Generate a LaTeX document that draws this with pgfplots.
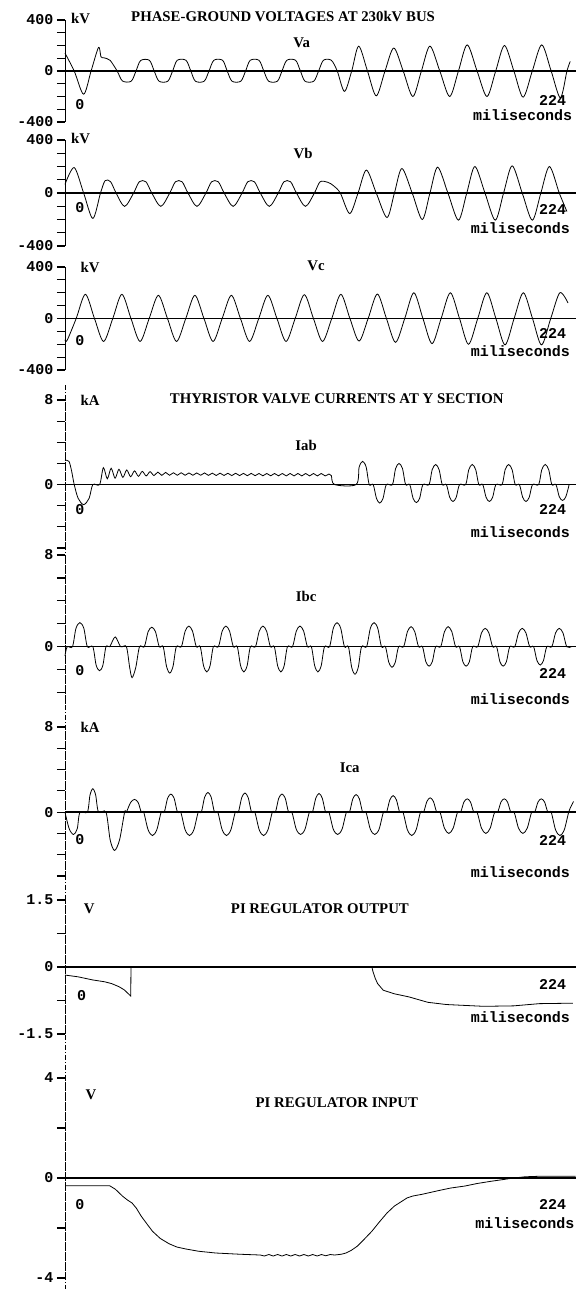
\documentclass[border=0pt]{standalone}
\usepackage{fontspec}
\setmainfont{Liberation Serif}
\newfontfamily\monofont{Liberation Mono}
\usepackage{pgfplots}
\pgfplotsset{compat=1.18}

\newcommand{\lbl}{\monofont\bfseries\fontsize{15}{15}\selectfont}
\newcommand{\ttl}{\bfseries\fontsize{14.8}{15}\selectfont}

\pgfplotsset{
  panel/.style={
    scale only axis, width=510.7pt, xmin=0, xmax=233,
    axis x line=middle, axis y line=left, clip=false,
    every inner x axis line/.append style={-, line width=1.5pt},
    every outer y axis line/.append style={-, line width=1pt},
    xtick=\empty, minor xtick={28,56,...,224}, minor tick length=4pt,
    major tick length=8pt, ytick align=outside, ytick pos=left,
    every tick/.style={black, line width=1.2pt},
    yticklabel style={font=\lbl, anchor=east},
  },
  lower/.style={every outer y axis line/.append style={dash pattern=on 5pt off 2pt on 1pt off 2pt, line width=0.8pt}},
  wave/.style={black, line width=0.8pt, smooth},
  sig/.style={black, line width=0.8pt},
}

\begin{document}
\begin{tikzpicture}[x=1pt,y=1pt]
\path[use as bounding box] (0,0) rectangle (582,-1289);
\draw[dash pattern=on 5pt off 2pt on 1pt off 2pt, line width=0.8pt] (65,-385) -- (65,-1289);

% ---------- Va
\begin{axis}[panel, at={(65pt,-122pt)}, anchor=south west, height=102pt,
  ymin=-400, ymax=400, ytick={-400,-300,...,400},
  yticklabels={-400,{},{},{},0,{},{},{},400}]
\addplot[wave] coordinates {
 (0,140) (4.2,0) (8.5,-182) (11.9,0) (15.3,185) (16.4,112) (17.6,104) (19,98) (20.6,84) (23.8,0)
 (26.2,-78) (30.2,-80) (32.4,0) (34.5,82) (38.5,84) (40.7,0)
 (42.9,-80) (46.9,-80) (49.1,0) (51.2,84) (55.2,84) (57.4,0)
 (59.5,-80) (63.5,-80) (65.7,0) (67.9,84) (71.9,84) (74.0,0)
 (76.2,-80) (80.2,-80) (82.4,0) (84.5,84) (88.5,84) (90.7,0)
 (92.9,-80) (96.9,-80) (99.0,0) (101.2,84) (105.2,84) (107.4,0)
 (109.5,-80) (113.5,-80) (115.7,0) (117.9,84) (121.5,84) (124.2,0)
 (127.5,-160) (130.8,0) (134,195) (138,0) (142,-195) (146,0) (150,180) (154.3,0)
 (158.7,-200) (162.6,0) (166.5,195) (171,0) (175.5,-200) (179.5,0) (183.5,205) (188,0)
 (192.5,-200) (196.5,0) (200.5,200) (204.8,0) (209,-205) (213.2,0) (217.5,205) (221.8,0)
 (226,-210) (229,0) (230.5,75)
};
\node[font=\ttl] at (99.5,425) {PHASE-GROUND VOLTAGES AT 230kV BUS};
\node[font=\ttl, anchor=west] at (1.2,415) {kV};
\node[font=\ttl] at (108,223) {Va};
\node[font=\lbl] at (6.8,-260) {0};
\node[font=\lbl] at (222.5,-232) {224};
\node[font=\lbl, anchor=east] at (233,-350) {miliseconds};
\end{axis}

% ---------- Vb
\begin{axis}[panel, at={(65pt,-246pt)}, anchor=south west, height=106pt,
  ymin=-400, ymax=400, ytick={-400,-300,...,400},
  yticklabels={-400,{},{},{},0,{},{},{},400}]
\addplot[wave] coordinates {
 (0,65) (4.2,192) (8.5,0) (12.7,-192) (16.2,0) (18.3,93) (20.8,85) (23.3,0)
 (27.2,-101) (31.3,0) (33.9,85) (36.9,85) (39.6,0)
 (43.7,-101) (47.8,0) (50.4,85) (53.4,85) (56.1,0)
 (60.2,-101) (64.3,0) (66.9,85) (69.9,85) (72.6,0)
 (76.7,-101) (80.8,0) (83.4,85) (86.4,85) (89.1,0)
 (93.2,-101) (97.3,0) (99.9,85) (102.9,85) (105.6,0)
 (109.7,-101) (113.8,0) (116.4,85) (120,80) (122.5,55) (125.6,0)
 (129.9,-155) (133.7,0) (137.5,173) (142,0) (146.9,-185) (150.3,0) (153.7,185) (158.4,0)
 (163,-200) (166.5,0) (170,195) (174.7,0) (179.5,-205) (183.3,0) (187,200) (191.6,0)
 (196.3,-205) (200.1,0) (204,205) (208.6,0) (213.2,-205) (217.1,0) (221,200) (225.5,0)
 (229,-140)
};
\node[font=\ttl, anchor=west] at (1.2,410) {kV};
\node[font=\ttl] at (108.6,300) {Vb};
\node[font=\lbl] at (6.8,-110) {0};
\node[font=\lbl] at (222.5,-125) {224};
\node[font=\lbl, anchor=east] at (232,-265) {miliseconds};
\end{axis}

% ---------- Vc
\begin{axis}[panel, at={(65pt,-370pt)}, anchor=south west, height=103pt,
  ymin=-400, ymax=400, ytick={-400,-300,...,400},
  yticklabels={-400,{},{},{},0,{},{},{},400}]
\addplot[wave] coordinates {
 (0,-165) (0.95,-170) (5.1,0) (9.3,188) (13.45,0) (17.6,-178) (21.8,0) (25.95,188) (30.1,0)
 (34.25,-178) (38.4,0) (42.6,180) (46.75,0) (50.9,-178) (55.1,0) (59.25,180) (63.4,0)
 (67.55,-178) (71.7,0) (75.9,180) (80.05,0) (84.2,-178) (88.4,0) (92.55,180) (96.7,0)
 (100.85,-178) (105,0) (109.2,185) (113.35,0) (117.5,-178) (121.7,0) (125.85,188) (130,0)
 (134.15,-175) (138.3,0) (142.5,190) (146.65,0) (150.8,-185) (155,0) (159.15,200) (163.3,0)
 (167.45,-195) (171.6,0) (175.8,200) (180,0) (184.1,-200) (188.3,0) (192.45,200) (196.6,0)
 (200.75,-205) (204.9,0) (209.1,200) (213.3,0) (217.4,-205) (221.6,0) (225.75,200) (229.5,120)
};
\node[font=\ttl, anchor=west] at (5.5,400) {kV};
\node[font=\ttl] at (114.5,410) {Vc};
\node[font=\lbl] at (6.8,-170) {0};
\node[font=\lbl] at (222.5,-120) {224};
\node[font=\lbl, anchor=east] at (232,-252) {miliseconds};
\end{axis}

% ---------- Iab
\begin{axis}[panel, lower, at={(65pt,-548pt)}, anchor=south west, height=148pt,
  ymin=-6, ymax=8, ytick={-6,-4,...,8},
  yticklabels={{},{},{},0,{},{},{},8}]
\addplot[wave] coordinates {
 (0,2.3) (1.8,2.2) (3,1.3) (4.2,0) (6,-1.3) (8.5,-1.9) (11,-1.3) (12.7,0) (15.8,0)
 (17.5,1.6) (19.3,0.55) (21.05,1.55) (22.85,0.6) (24.6,1.45) (26.4,0.68) (28.15,1.38) (29.95,0.74)
 (31.7,1.3) (33.5,0.78) (35.25,1.25) (37.05,0.82) (38.8,1.22) (40.6,0.85) (42.35,1.18) (44.15,0.87)
 (45.9,1.15) (47.7,0.88) (49.45,1.12) (51.25,0.88) (53,1.12) (54.8,0.88) (56.55,1.1) (58.35,0.88)
 (60.1,1.1) (61.9,0.88) (63.65,1.1) (65.45,0.87) (67.2,1.08) (69,0.86) (70.75,1.08) (72.55,0.86)
 (74.3,1.07) (76.1,0.85) (77.85,1.07) (79.65,0.85) (81.4,1.06) (83.2,0.84) (84.95,1.06) (86.75,0.84)
 (88.5,1.05) (90.3,0.83) (92.05,1.05) (93.85,0.83) (95.6,1.05) (97.4,0.83) (99.15,1.05) (100.95,0.82)
 (102.7,1.05) (104.5,0.82) (106.25,1.05) (108.05,0.82) (109.8,1.05) (111.6,0.82) (113.35,1.05) (115.15,0.82)
 (116.9,1.05) (118.7,0.82) (120.45,1.0) (121.5,0.85) (123,0) (132.8,0)
 (134.2,1.65) (135.8,2.2) (137.4,1.65) (138.8,0) (140.6,0)
 (142.1,-1.3) (143.6,-1.75) (145.1,-1.3) (146.6,0) (149.4,0)
 (150.8,1.5) (152.4,2.0) (154,1.5) (155.4,0) (157.3,0)
 (158.8,-1.3) (160.3,-1.7) (161.8,-1.3) (163.3,0) (166.1,0)
 (167.5,1.4) (169.1,1.9) (170.7,1.4) (172.1,0) (174,0)
 (175.5,-1.2) (177,-1.6) (178.5,-1.2) (180,0) (182.8,0)
 (184.2,1.4) (185.8,1.9) (187.4,1.4) (188.8,0) (190.6,0)
 (192.1,-1.2) (193.6,-1.6) (195.1,-1.2) (196.6,0) (199.4,0)
 (200.8,1.4) (202.4,1.9) (204,1.4) (205.4,0) (207.3,0)
 (208.8,-1.2) (210.3,-1.6) (211.8,-1.2) (213.3,0) (216.1,0)
 (217.5,1.4) (219.1,1.9) (220.7,1.4) (222.1,0) (224,0)
 (225.5,-1.15) (227,-1.5) (228.5,-1.15) (230,0)
};
\node[font=\ttl] at (124,8.1) {THYRISTOR VALVE CURRENTS AT Y SECTION};
\node[font=\ttl, anchor=west] at (5.5,8) {kA};
\node[font=\ttl] at (110,3.7) {Iab};
\node[font=\lbl] at (6.8,-2.35) {0};
\node[font=\lbl] at (222.5,-2.4) {224};
\node[font=\lbl, anchor=east] at (232,-4.5) {miliseconds};
\end{axis}

% ---------- Ibc
\begin{axis}[panel, lower, at={(65pt,-704pt)}, anchor=south west, height=149pt,
  ymin=-5, ymax=8, ytick={-4,-2,...,8},
  yticklabels={{},{},0,{},{},{},8}]
\addplot[wave] coordinates {
 (0,-0.8) (1,0) (3.4,0) (5,1.6) (6.8,2.1) (8.6,1.6) (10.2,0) (12.7,0)
 (14.2,-1.6) (15.8,-2.1) (17.3,-1.6) (18.7,0) (20.4,0) (22.9,0.85) (25.4,0) (28,0)
 (29.5,-1.8) (30.6,-2.7) (32.3,-1.8) (34,0) (36.2,0)
 (37.9,1.3) (39.6,1.7) (41.3,1.3) (43,0) (44.8,0)
 (46.3,-1.7) (47.8,-2.3) (49.3,-1.7) (50.8,0) (53.1,0)
 (54.8,1.35) (56.5,1.8) (58.2,1.35) (59.9,0) (61.7,0)
 (63.2,-1.65) (64.7,-2.2) (66.2,-1.65) (67.7,0) (70,0)
 (71.7,1.35) (73.4,1.8) (75.1,1.35) (76.8,0) (78.6,0)
 (80.1,-1.65) (81.6,-2.2) (83.1,-1.65) (84.6,0) (86.9,0)
 (88.6,1.35) (90.3,1.8) (92,1.35) (93.7,0) (95.5,0)
 (97,-1.65) (98.5,-2.2) (100,-1.65) (101.5,0) (103.8,0)
 (105.5,1.35) (107.2,1.8) (108.9,1.35) (110.6,0) (112.4,0)
 (113.9,-1.65) (115.4,-2.2) (116.9,-1.65) (118.4,0) (120.7,0)
 (122.4,1.6) (124.1,2.1) (125.8,1.6) (127.5,0) (129.3,0)
 (130.8,-1.8) (132.3,-2.4) (133.8,-1.8) (135.3,0) (137.6,0)
 (139.3,1.6) (141,2.1) (142.7,1.6) (144.4,0) (146.2,0)
 (147.7,-1.35) (149.2,-1.8) (150.7,-1.35) (152.2,0) (154.5,0)
 (156.2,1.3) (157.9,1.75) (159.6,1.3) (161.3,0) (163.1,0)
 (164.6,-1.3) (166.1,-1.7) (167.6,-1.3) (169.1,0) (171.4,0)
 (173.1,1.3) (174.8,1.75) (176.5,1.3) (178.2,0) (180,0)
 (181.5,-1.3) (183,-1.7) (184.5,-1.3) (186,0) (188.3,0)
 (190,1.2) (191.7,1.6) (193.4,1.2) (195.1,0) (196.9,0)
 (198.4,-1.3) (199.9,-1.7) (201.4,-1.3) (202.9,0) (205.2,0)
 (206.9,1.2) (208.6,1.6) (210.3,1.2) (212,0) (213.8,0)
 (215.3,-1.2) (216.8,-1.6) (218.3,-1.2) (219.8,0) (222.1,0)
 (223.8,1.2) (225.5,1.6) (227.2,1.2) (228.9,0) (231,0)
};
\node[font=\ttl] at (110,4.4) {Ibc};
\node[font=\lbl] at (6.8,-2.1) {0};
\node[font=\lbl] at (222.5,-2.3) {224};
\node[font=\lbl, anchor=east] at (232,-4.6) {miliseconds};
\end{axis}

% ---------- Ica
\begin{axis}[panel, lower, at={(65pt,-876pt)}, anchor=south west, height=149pt,
  ymin=-6, ymax=8, ytick={-6,-4,...,8},
  yticklabels={{},{},{},0,{},{},{},8}]
\addplot[wave] coordinates {
 (0,0) (1.9,-1.55) (3.9,-2.1) (5.6,-1.55) (6.8,0) (10.2,0)
 (11.4,1.6) (12.7,2.2) (14,1.6) (15.3,0) (18.7,0)
 (20.6,-2.6) (22.6,-3.6) (24.9,-2.6) (27.2,0) (28,0)
 (29.9,0.9) (31.7,1.2) (33.4,0.9) (34.8,0) (35.9,0)
 (37.9,-1.65) (39.9,-2.2) (41.9,-1.65) (43.9,0) (45.3,0)
 (46.8,1.3) (48.3,1.7) (49.8,1.3) (51.3,0) (52.8,0)
 (54.8,-1.65) (56.8,-2.2) (58.8,-1.65) (60.8,0) (62.2,0)
 (63.7,1.4) (65.2,1.85) (66.7,1.4) (68.2,0) (69.7,0)
 (71.7,-1.65) (73.7,-2.2) (75.7,-1.65) (77.7,0) (79.1,0)
 (80.6,1.35) (82.1,1.8) (83.6,1.35) (85.1,0) (86.6,0)
 (88.6,-1.65) (90.6,-2.2) (92.6,-1.65) (94.6,0) (96,0)
 (97.5,1.3) (99,1.7) (100.5,1.3) (102,0) (103.5,0)
 (105.5,-1.6) (107.5,-2.1) (109.5,-1.6) (111.5,0) (112.9,0)
 (114.4,1.3) (115.9,1.75) (117.4,1.3) (118.9,0) (120.4,0)
 (122.4,-1.6) (124.4,-2.1) (126.4,-1.6) (128.4,0) (129.8,0)
 (131.3,1.25) (132.8,1.65) (134.3,1.25) (135.8,0) (137.3,0)
 (139.3,-1.6) (141.3,-2.1) (143.3,-1.6) (145.3,0) (146.7,0)
 (148.2,1.15) (149.7,1.55) (151.2,1.15) (152.7,0) (154.2,0)
 (156.2,-1.65) (158.2,-2.2) (160.2,-1.65) (162.2,0) (163.6,0)
 (165.1,1.0) (166.6,1.35) (168.1,1.0) (169.6,0) (171.1,0)
 (173.1,-1.5) (175.1,-2.0) (177.1,-1.5) (179.1,0) (180.5,0)
 (182,0.95) (183.5,1.25) (185,0.95) (186.5,0) (188,0)
 (190,-1.5) (192,-2.0) (194,-1.5) (196,0) (197.4,0)
 (198.9,0.95) (200.4,1.25) (201.9,0.95) (203.4,0) (204.9,0)
 (206.9,-1.5) (208.9,-2.0) (210.9,-1.5) (212.9,0) (214.3,0)
 (215.8,0.95) (217.3,1.25) (218.8,0.95) (220.3,0) (221.8,0)
 (223.8,-1.65) (225.8,-2.2) (227.8,-1.65) (229.8,0) (231,0.6) (232,1.0)
};
\node[font=\ttl, anchor=west] at (5.5,8) {kA};
\node[font=\ttl] at (129.9,4.2) {Ica};
\node[font=\lbl] at (6.8,-2.6) {0};
\node[font=\lbl] at (222.5,-2.7) {224};
\node[font=\lbl, anchor=east] at (232,-5.6) {miliseconds};
\end{axis}

% ---------- PI regulator output
\begin{axis}[panel, lower, at={(65pt,-1034pt)}, anchor=south west, height=134pt,
  ymin=-1.5, ymax=1.5, ytick={-1.5,-0.75,0,0.75,1.5},
  yticklabels={-1.5,{},0,{},1.5}]
\addplot[sig] coordinates {
 (0,-0.18) (6,-0.22) (12.7,-0.29) (18,-0.33) (21.2,-0.37) (24.6,-0.44) (27,-0.51)
 (28.5,-0.58) (30,-0.65) (30.1,0) (140,0) (140.5,-0.1) (141.5,-0.25) (142.6,-0.37)
 (145.2,-0.52) (150.3,-0.6) (157,-0.67) (165.5,-0.79) (174,-0.84) (182.5,-0.86)
 (191,-0.88) (204.6,-0.87) (216.5,-0.82) (231.7,-0.81)
};
\node[font=\ttl] at (11,1.31) {V};
\node[font=\ttl] at (116.3,1.31) {PI REGULATOR OUTPUT};
\node[font=\lbl] at (7.6,-0.63) {0};
\node[font=\lbl] at (222.5,-0.4) {224};
\node[font=\lbl, anchor=east] at (232,-1.13) {miliseconds};
\end{axis}

% ---------- PI regulator input
\begin{axis}[panel, lower, at={(65pt,-1278pt)}, anchor=south west, height=200pt,
  ymin=-4, ymax=4, ytick={-4,-2,0,2,4},
  yticklabels={-4,{},0,{},4}]
\addplot[sig] coordinates {
 (0,-0.31) (20.4,-0.31) (23,-0.45) (26.3,-0.73) (28.5,-0.88) (30.6,-1.0) (32.5,-1.2)
 (34.8,-1.53) (37.5,-1.85) (39.9,-2.13) (43.5,-2.42) (47.5,-2.63) (51,-2.76) (55.2,-2.84)
 (61,-2.93) (68.8,-3.0) (80,-3.05) (89.1,-3.08)
 (91,-3.12) (93,-3.06) (95,-3.12) (97,-3.06) (99,-3.12) (101,-3.06) (103,-3.12) (105,-3.06)
 (107,-3.12) (109,-3.06) (111,-3.12) (113,-3.06) (115,-3.12) (117,-3.06) (119,-3.11) (121,-3.06)
 (123,-3.08) (126,-3.05) (128.2,-3.0) (130.5,-2.9) (133.3,-2.73) (136.5,-2.45) (140,-2.13)
 (143.5,-1.75) (146.9,-1.4) (150.3,-1.12) (153.7,-0.93) (156,-0.8) (158.7,-0.72) (163,-0.65)
 (170.6,-0.5) (176,-0.4) (182.5,-0.32) (188,-0.22) (194.4,-0.13) (200,-0.06) (204.6,0)
 (210,0.05) (216.5,0.07) (233,0.07)
};
\node[font=\ttl] at (11.9,3.33) {V};
\node[font=\ttl] at (124,3.0) {PI REGULATOR INPUT};
\node[font=\lbl] at (6.8,-1.07) {0};
\node[font=\lbl] at (222.5,-1.07) {224};
\node[font=\lbl, anchor=east] at (234,-1.8) {miliseconds};
\end{axis}
\end{tikzpicture}
\end{document}
